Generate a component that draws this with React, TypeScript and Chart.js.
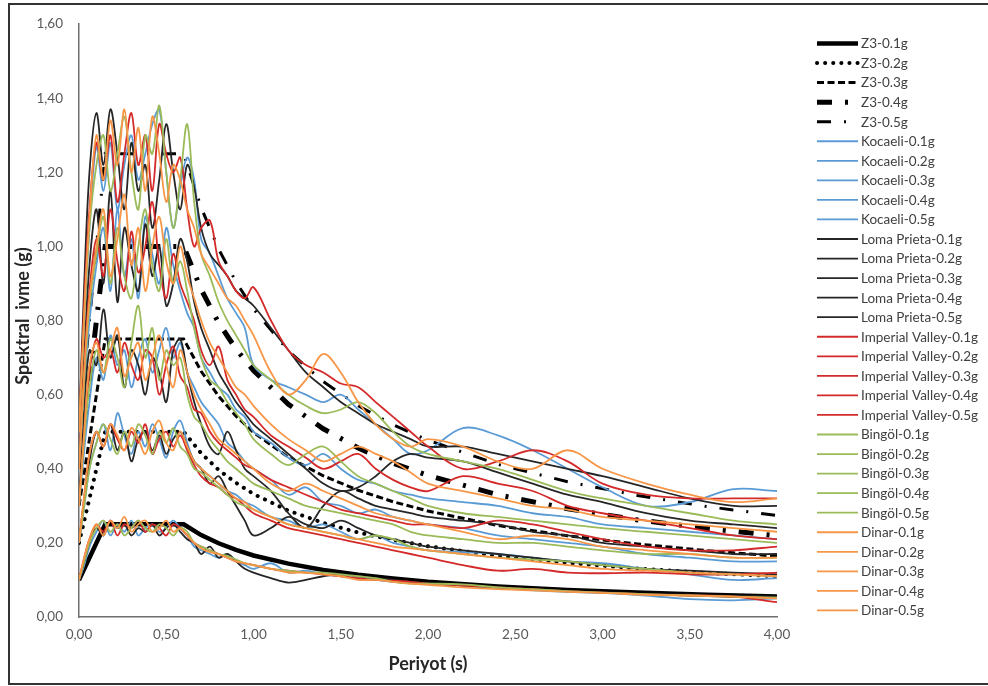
import React, { useEffect, useRef } from "react";
import { Chart, registerables } from "chart.js";
Chart.register(...registerables);

// Period grid (s) for the record spectra
const periods = [
  0, 0.03, 0.06, 0.1, 0.14, 0.18, 0.22, 0.26, 0.3, 0.34,
  0.38, 0.42, 0.46, 0.5, 0.54, 0.58, 0.62, 0.66, 0.7, 0.75,
  0.8, 0.85, 0.9, 0.95, 1.0, 1.1, 1.2, 1.3, 1.4, 1.5,
  1.6, 1.7, 1.8, 1.9, 2.0, 2.2, 2.4, 2.6, 2.8, 3.0,
  3.25, 3.5, 3.75, 4.0,
];

// Design spectrum (Z3) read points
const z3Periods = [0, 0.15, 0.6, 0.7, 0.8, 0.9, 1.0, 1.2, 1.4, 1.6, 1.8, 2.0, 2.4, 2.8, 3.2, 3.6, 4.0];
const z3_01 = [0.10, 0.25, 0.25, 0.221, 0.199, 0.181, 0.166, 0.144, 0.127, 0.114, 0.104, 0.095, 0.082, 0.073, 0.066, 0.060, 0.055];
const z3_02 = [0.20, 0.50, 0.50, 0.442, 0.397, 0.362, 0.332, 0.287, 0.254, 0.228, 0.208, 0.191, 0.165, 0.146, 0.131, 0.119, 0.110];
const z3_03 = [0.30, 0.75, 0.75, 0.663, 0.596, 0.542, 0.498, 0.431, 0.381, 0.342, 0.311, 0.286, 0.247, 0.219, 0.197, 0.179, 0.164];
const z3_04 = [0.40, 1.00, 1.00, 0.884, 0.794, 0.723, 0.665, 0.574, 0.508, 0.456, 0.415, 0.382, 0.330, 0.292, 0.262, 0.239, 0.219];
const z3_05 = [0.50, 1.25, 1.25, 1.105, 0.993, 0.904, 0.831, 0.718, 0.635, 0.570, 0.519, 0.477, 0.412, 0.365, 0.328, 0.298, 0.274];

// Kocaeli
const kocaeli01 = [0.10, 0.14, 0.19, 0.23, 0.26, 0.22, 0.25, 0.23, 0.26, 0.22,
  0.24, 0.25, 0.23, 0.24, 0.26, 0.24, 0.22, 0.19, 0.18, 0.17,
  0.16, 0.17, 0.15, 0.14, 0.13, 0.145, 0.12, 0.125, 0.115, 0.11,
  0.105, 0.10, 0.095, 0.092, 0.09, 0.085, 0.078, 0.072, 0.068, 0.065,
  0.058, 0.048, 0.045, 0.05];
const kocaeli02 = [0.20, 0.30, 0.40, 0.47, 0.52, 0.45, 0.55, 0.49, 0.44, 0.50,
  0.46, 0.52, 0.48, 0.43, 0.50, 0.53, 0.47, 0.42, 0.40, 0.38,
  0.36, 0.34, 0.33, 0.31, 0.30, 0.27, 0.26, 0.24, 0.25, 0.23,
  0.21, 0.22, 0.20, 0.19, 0.18, 0.175, 0.17, 0.16, 0.15, 0.145,
  0.13, 0.115, 0.10, 0.105];
const kocaeli03 = [0.30, 0.45, 0.58, 0.70, 0.64, 0.76, 0.68, 0.72, 0.62, 0.70,
  0.75, 0.66, 0.72, 0.78, 0.70, 0.74, 0.66, 0.62, 0.58, 0.55,
  0.52, 0.47, 0.45, 0.42, 0.40, 0.37, 0.33, 0.35, 0.31, 0.30,
  0.28, 0.29, 0.27, 0.26, 0.25, 0.24, 0.22, 0.21, 0.20, 0.19,
  0.17, 0.16, 0.15, 0.15];
const kocaeli04 = [0.40, 0.62, 0.80, 0.95, 1.05, 0.88, 1.10, 0.92, 1.02, 0.86,
  1.08, 0.98, 0.90, 1.05, 0.95, 0.88, 0.82, 0.78, 0.70, 0.66,
  0.62, 0.60, 0.56, 0.54, 0.50, 0.47, 0.43, 0.41, 0.44, 0.40,
  0.37, 0.36, 0.34, 0.33, 0.32, 0.31, 0.30, 0.28, 0.27, 0.25,
  0.24, 0.23, 0.22, 0.21];
const kocaeli05 = [0.50, 0.80, 1.05, 1.27, 1.15, 1.28, 1.10, 1.22, 1.30, 1.18,
  1.25, 1.33, 1.37, 1.20, 1.05, 1.16, 1.24, 1.18, 1.02, 0.98,
  0.92, 0.86, 0.82, 0.78, 0.68, 0.64, 0.62, 0.60, 0.58, 0.60,
  0.56, 0.52, 0.48, 0.44, 0.45, 0.51, 0.49, 0.45, 0.40, 0.35,
  0.30, 0.31, 0.345, 0.34];

// Loma Prieta
const loma01 = [0.10, 0.15, 0.20, 0.24, 0.22, 0.26, 0.24, 0.25, 0.22, 0.24,
  0.23, 0.25, 0.22, 0.24, 0.25, 0.23, 0.21, 0.20, 0.17, 0.19,
  0.16, 0.17, 0.15, 0.13, 0.12, 0.105, 0.093, 0.10, 0.11, 0.115,
  0.11, 0.105, 0.10, 0.095, 0.09, 0.085, 0.08, 0.075, 0.07, 0.067,
  0.062, 0.06, 0.057, 0.055];
const loma02 = [0.20, 0.32, 0.42, 0.50, 0.46, 0.52, 0.45, 0.50, 0.42, 0.48,
  0.50, 0.45, 0.49, 0.44, 0.48, 0.50, 0.46, 0.42, 0.40, 0.36,
  0.38, 0.34, 0.30, 0.26, 0.22, 0.24, 0.27, 0.25, 0.24, 0.26,
  0.24, 0.22, 0.21, 0.20, 0.19, 0.18, 0.17, 0.16, 0.15, 0.14,
  0.13, 0.125, 0.12, 0.115];
const loma03 = [0.30, 0.55, 0.72, 0.68, 0.83, 0.70, 0.76, 0.62, 0.72, 0.68,
  0.60, 0.70, 0.66, 0.58, 0.72, 0.75, 0.66, 0.58, 0.52, 0.46,
  0.44, 0.50, 0.45, 0.40, 0.38, 0.34, 0.28, 0.24, 0.30, 0.34,
  0.32, 0.30, 0.29, 0.28, 0.27, 0.26, 0.25, 0.23, 0.22, 0.20,
  0.19, 0.18, 0.17, 0.17];
const loma04 = [0.40, 0.70, 0.95, 1.10, 0.90, 1.15, 0.85, 1.05, 0.95, 0.88,
  1.06, 0.92, 1.00, 0.84, 0.90, 1.02, 0.96, 0.85, 0.78, 0.72,
  0.66, 0.62, 0.58, 0.55, 0.52, 0.48, 0.44, 0.40, 0.36, 0.34,
  0.35, 0.38, 0.42, 0.44, 0.43, 0.42, 0.39, 0.36, 0.33, 0.31,
  0.28, 0.26, 0.25, 0.24];
const loma05 = [0.50, 0.90, 1.20, 1.36, 1.22, 1.37, 1.25, 1.10, 1.28, 1.15,
  1.22, 1.05, 1.18, 1.33, 1.20, 1.10, 1.22, 1.16, 1.05, 0.98,
  0.95, 0.92, 0.88, 0.86, 0.84, 0.78, 0.72, 0.66, 0.62, 0.58,
  0.55, 0.52, 0.50, 0.48, 0.46, 0.46, 0.44, 0.42, 0.40, 0.38,
  0.35, 0.32, 0.30, 0.30];

// Imperial Valley
const imperial01 = [0.10, 0.16, 0.21, 0.25, 0.23, 0.26, 0.22, 0.25, 0.24, 0.26,
  0.23, 0.25, 0.24, 0.22, 0.25, 0.24, 0.22, 0.20, 0.19, 0.18,
  0.17, 0.16, 0.15, 0.145, 0.14, 0.13, 0.125, 0.12, 0.115, 0.11,
  0.105, 0.10, 0.098, 0.095, 0.09, 0.085, 0.08, 0.075, 0.07, 0.066,
  0.062, 0.058, 0.055, 0.04];
const imperial02 = [0.20, 0.32, 0.44, 0.50, 0.46, 0.52, 0.48, 0.45, 0.50, 0.47,
  0.52, 0.44, 0.48, 0.50, 0.46, 0.49, 0.45, 0.41, 0.38, 0.36,
  0.35, 0.33, 0.32, 0.30, 0.28, 0.26, 0.24, 0.23, 0.22, 0.21,
  0.20, 0.19, 0.18, 0.17, 0.16, 0.14, 0.125, 0.13, 0.12, 0.118,
  0.12, 0.115, 0.115, 0.12];
const imperial03 = [0.30, 0.50, 0.66, 0.75, 0.70, 0.72, 0.66, 0.74, 0.68, 0.64,
  0.72, 0.70, 0.60, 0.68, 0.73, 0.65, 0.62, 0.56, 0.55, 0.50,
  0.47, 0.45, 0.43, 0.41, 0.40, 0.37, 0.35, 0.33, 0.31, 0.29,
  0.28, 0.27, 0.26, 0.25, 0.25, 0.24, 0.26, 0.25, 0.23, 0.21,
  0.19, 0.18, 0.18, 0.19];
const imperial04 = [0.40, 0.68, 0.88, 1.02, 0.92, 1.10, 0.96, 0.88, 1.04, 0.93,
  1.00, 1.12, 0.95, 0.86, 0.98, 0.90, 0.85, 0.80, 0.72, 0.68,
  0.73, 0.64, 0.60, 0.56, 0.54, 0.49, 0.46, 0.43, 0.40, 0.42,
  0.44, 0.40, 0.37, 0.35, 0.34, 0.38, 0.36, 0.34, 0.30, 0.28,
  0.26, 0.24, 0.22, 0.21];
const imperial05 = [0.50, 0.85, 1.10, 1.28, 1.18, 1.30, 1.12, 1.25, 1.36, 1.22,
  1.30, 1.15, 1.33, 1.25, 1.20, 1.24, 1.10, 1.00, 1.05, 1.07,
  0.96, 0.92, 0.88, 0.86, 0.89, 0.80, 0.72, 0.68, 0.66, 0.63,
  0.62, 0.58, 0.54, 0.50, 0.46, 0.40, 0.42, 0.45, 0.42, 0.36,
  0.33, 0.32, 0.32, 0.32];

// Bingöl
const bingol01 = [0.10, 0.15, 0.20, 0.24, 0.26, 0.23, 0.25, 0.22, 0.24, 0.26,
  0.24, 0.23, 0.25, 0.24, 0.22, 0.24, 0.23, 0.20, 0.19, 0.18,
  0.17, 0.165, 0.155, 0.145, 0.14, 0.13, 0.125, 0.12, 0.12, 0.115,
  0.11, 0.105, 0.095, 0.09, 0.09, 0.088, 0.08, 0.075, 0.07, 0.066,
  0.062, 0.058, 0.055, 0.052];
const bingol02 = [0.20, 0.30, 0.40, 0.47, 0.52, 0.48, 0.44, 0.50, 0.46, 0.52,
  0.49, 0.44, 0.50, 0.47, 0.51, 0.46, 0.44, 0.40, 0.39, 0.37,
  0.35, 0.33, 0.31, 0.30, 0.29, 0.27, 0.25, 0.24, 0.23, 0.22,
  0.21, 0.22, 0.21, 0.19, 0.18, 0.17, 0.16, 0.155, 0.15, 0.14,
  0.13, 0.12, 0.115, 0.11];
const bingol03 = [0.30, 0.48, 0.62, 0.72, 0.66, 0.75, 0.70, 0.62, 0.74, 0.84,
  0.70, 0.78, 0.64, 0.72, 0.68, 0.70, 0.60, 0.54, 0.52, 0.48,
  0.45, 0.42, 0.40, 0.38, 0.36, 0.34, 0.32, 0.30, 0.29, 0.28,
  0.27, 0.26, 0.25, 0.23, 0.22, 0.21, 0.20, 0.20, 0.19, 0.18,
  0.17, 0.17, 0.16, 0.16];
const bingol04 = [0.40, 0.64, 0.84, 0.98, 1.08, 0.90, 1.05, 0.92, 0.86, 1.00,
  1.10, 0.95, 0.88, 1.02, 0.90, 0.96, 0.88, 0.78, 0.70, 0.64,
  0.62, 0.58, 0.55, 0.52, 0.48, 0.44, 0.41, 0.44, 0.46, 0.42,
  0.38, 0.36, 0.34, 0.32, 0.30, 0.28, 0.27, 0.26, 0.25, 0.24,
  0.23, 0.22, 0.21, 0.20];
const bingol05 = [0.50, 0.80, 1.05, 1.22, 1.30, 1.15, 1.25, 1.35, 1.20, 1.10,
  1.30, 1.25, 1.38, 1.20, 1.05, 1.18, 1.33, 1.12, 0.98, 0.92,
  0.85, 0.80, 0.76, 0.72, 0.68, 0.64, 0.60, 0.57, 0.55, 0.56,
  0.58, 0.55, 0.50, 0.46, 0.44, 0.42, 0.40, 0.37, 0.34, 0.32,
  0.30, 0.28, 0.26, 0.25];

// Dinar
const dinar01 = [0.10, 0.16, 0.21, 0.25, 0.22, 0.26, 0.24, 0.27, 0.23, 0.25,
  0.26, 0.23, 0.24, 0.26, 0.23, 0.24, 0.22, 0.20, 0.185, 0.175,
  0.17, 0.16, 0.15, 0.145, 0.14, 0.13, 0.12, 0.12, 0.115, 0.11,
  0.10, 0.10, 0.095, 0.09, 0.087, 0.08, 0.075, 0.072, 0.068, 0.065,
  0.06, 0.058, 0.055, 0.05];
const dinar02 = [0.20, 0.33, 0.44, 0.50, 0.46, 0.52, 0.49, 0.45, 0.51, 0.48,
  0.44, 0.50, 0.53, 0.47, 0.45, 0.50, 0.46, 0.42, 0.40, 0.38,
  0.36, 0.34, 0.32, 0.31, 0.29, 0.27, 0.25, 0.24, 0.23, 0.22,
  0.21, 0.20, 0.19, 0.185, 0.18, 0.17, 0.16, 0.15, 0.14, 0.13,
  0.125, 0.12, 0.115, 0.11];
const dinar03 = [0.30, 0.50, 0.68, 0.74, 0.66, 0.72, 0.78, 0.65, 0.70, 0.74,
  0.64, 0.70, 0.76, 0.68, 0.62, 0.72, 0.66, 0.60, 0.56, 0.52,
  0.48, 0.46, 0.44, 0.42, 0.40, 0.36, 0.34, 0.36, 0.34, 0.32,
  0.30, 0.28, 0.27, 0.26, 0.25, 0.23, 0.21, 0.22, 0.21, 0.19,
  0.18, 0.17, 0.16, 0.16];
const dinar04 = [0.40, 0.66, 0.86, 1.00, 1.10, 0.92, 1.02, 1.14, 0.95, 1.05,
  0.88, 1.00, 1.08, 0.96, 0.90, 1.00, 0.92, 0.86, 0.80, 0.74,
  0.70, 0.66, 0.62, 0.60, 0.57, 0.52, 0.48, 0.45, 0.42, 0.44,
  0.46, 0.44, 0.42, 0.39, 0.36, 0.34, 0.32, 0.30, 0.29, 0.27,
  0.26, 0.25, 0.24, 0.23];
const dinar05 = [0.50, 0.82, 1.08, 1.30, 1.18, 1.34, 1.22, 1.37, 1.20, 1.32,
  1.15, 1.35, 1.25, 1.12, 1.22, 1.18, 1.10, 1.05, 0.98, 0.94,
  0.90, 0.86, 0.84, 0.80, 0.76, 0.66, 0.60, 0.64, 0.71, 0.66,
  0.58, 0.52, 0.48, 0.46, 0.48, 0.46, 0.42, 0.40, 0.45, 0.40,
  0.36, 0.33, 0.31, 0.32];

const yTicks = [0, 0.2, 0.4, 0.6, 0.8, 1.0, 1.2, 1.4, 1.6];
const xTicks = [0, 0.5, 1.0, 1.5, 2.0, 2.5, 3.0, 3.5, 4.0];

const FONT = "Lato, 'Open Sans', sans-serif";

const fmt = (v: number) => v.toFixed(2).replace(".", ",");

const toPts = (xs: number[], ys: number[]) => xs.map((x, i) => ({ x, y: ys[i] }));

const z3Sets = [
  { label: "Z3-0.1g", data: z3_01, width: 4.5, dash: [] as number[], cap: "butt" },
  { label: "Z3-0.2g", data: z3_02, width: 4, dash: [0.1, 8], cap: "round" },
  { label: "Z3-0.3g", data: z3_03, width: 3, dash: [7, 3.5], cap: "butt" },
  { label: "Z3-0.4g", data: z3_04, width: 5, dash: [15, 13, 3, 13], cap: "butt" },
  { label: "Z3-0.5g", data: z3_05, width: 3, dash: [14, 13, 2, 13], cap: "butt" },
];

const records = [
  { name: "Kocaeli", color: "#5B9BD5", series: [kocaeli01, kocaeli02, kocaeli03, kocaeli04, kocaeli05] },
  { name: "Loma Prieta", color: "#262626", series: [loma01, loma02, loma03, loma04, loma05] },
  { name: "Imperial Valley", color: "#D42A2A", series: [imperial01, imperial02, imperial03, imperial04, imperial05] },
  { name: "Bingöl", color: "#9BBB59", series: [bingol01, bingol02, bingol03, bingol04, bingol05] },
  { name: "Dinar", color: "#F79646", series: [dinar01, dinar02, dinar03, dinar04, dinar05] },
];
const levels = ["0.1g", "0.2g", "0.3g", "0.4g", "0.5g"];

const overlayPlugin = {
  id: "overlay",
  afterDraw(chart: any) {
    const ctx = chart.ctx;
    ctx.save();
    // axis titles
    ctx.fillStyle = "#262626";
    ctx.font = `bold 18px ${FONT}`;
    ctx.textAlign = "center";
    ctx.textBaseline = "middle";
    ctx.fillText("Periyot (s)", (chart.chartArea.left + chart.chartArea.right) / 2, 664);
    ctx.save();
    ctx.translate(23, 316);
    ctx.rotate(-Math.PI / 2);
    ctx.fillText("Spektral  ivme (g)", 0, 0);
    ctx.restore();
    // legend
    const x0 = 817, x1 = 858, tx = 861, y0 = 43.5, dy = 19.55;
    ctx.font = `13.5px ${FONT}`;
    ctx.textAlign = "left";
    chart.data.datasets.forEach((ds: any, i: number) => {
      const y = y0 + i * dy;
      ctx.save();
      ctx.strokeStyle = ds.borderColor;
      ctx.lineWidth = ds.borderWidth;
      ctx.lineCap = ds.borderCapStyle || "butt";
      ctx.setLineDash(ds.borderDash || []);
      ctx.beginPath();
      ctx.moveTo(x0, y);
      ctx.lineTo(x1, y);
      ctx.stroke();
      ctx.restore();
      ctx.fillStyle = "#404040";
      ctx.fillText(ds.label, tx, y + 0.5);
    });
    ctx.restore();
  },
};

export default function App() {
  const ref = useRef<HTMLCanvasElement>(null);
  useEffect(() => {
    if (!ref.current) return;
    const datasets: any[] = [];
    z3Sets.forEach((z) => {
      datasets.push({
        label: z.label,
        data: toPts(z3Periods, z.data),
        borderColor: "#000000",
        borderWidth: z.width,
        borderDash: z.dash,
        borderCapStyle: z.cap,
        tension: 0,
        pointRadius: 0,
        fill: false,
      });
    });
    records.forEach((r) => {
      r.series.forEach((s, i) => {
        datasets.push({
          label: `${r.name}-${levels[i]}`,
          data: toPts(periods, s),
          borderColor: r.color,
          borderWidth: 1.8,
          borderDash: [],
          borderCapStyle: "butt",
          tension: 0.35,
          pointRadius: 0,
          fill: false,
        });
      });
    });
    // later series drawn on top (lower order is drawn last)
    const n = datasets.length;
    datasets.forEach((d, i) => { d.order = n - i; });
    const tickFont = { family: FONT, size: 13.5 };
    const chart = new Chart(ref.current, {
      type: "line",
      data: { datasets },
      options: {
        animation: false,
        responsive: false,
        maintainAspectRatio: false,
        layout: { padding: { left: 29, top: 17, right: 211, bottom: 39 } },
        plugins: { legend: { display: false }, tooltip: { enabled: false } },
        scales: {
          x: {
            type: "linear",
            min: 0,
            max: 4,
            grid: { display: false, drawTicks: false },
            border: { display: true, color: "#6f6f6f", width: 1.5 },
            afterBuildTicks: (s: any) => { s.ticks = xTicks.map((v) => ({ value: v })); },
            afterFit: (s: any) => { s.height = 30; },
            ticks: {
              padding: 10,
              color: "#595959",
              font: tickFont,
              maxRotation: 0,
              autoSkip: false,
              callback: (v: any) => fmt(Number(v)),
            },
          },
          y: {
            type: "linear",
            min: 0,
            max: 1.6,
            grid: { display: false, drawTicks: false },
            border: { display: true, color: "#6f6f6f", width: 1.5 },
            afterBuildTicks: (s: any) => { s.ticks = yTicks.map((v) => ({ value: v })); },
            afterFit: (s: any) => { s.width = 50; },
            ticks: {
              padding: 16,
              color: "#595959",
              font: tickFont,
              autoSkip: false,
              callback: (v: any) => fmt(Number(v)),
            },
          },
        },
      } as any,
      plugins: [overlayPlugin],
    });
    return () => chart.destroy();
  }, []);
  return (
    <div style={{ position: "fixed", left: 0, top: 0, width: 988, height: 686, background: "#fff" }}>
      <canvas ref={ref} width={988} height={686} style={{ position: "absolute", left: 0, top: 0, width: 988, height: 686 }} />
      <div
        style={{
          position: "absolute",
          left: 8,
          top: 3,
          width: 1000,
          height: 678,
          border: "2px solid #333",
          pointerEvents: "none",
        }}
      />
    </div>
  );
}
